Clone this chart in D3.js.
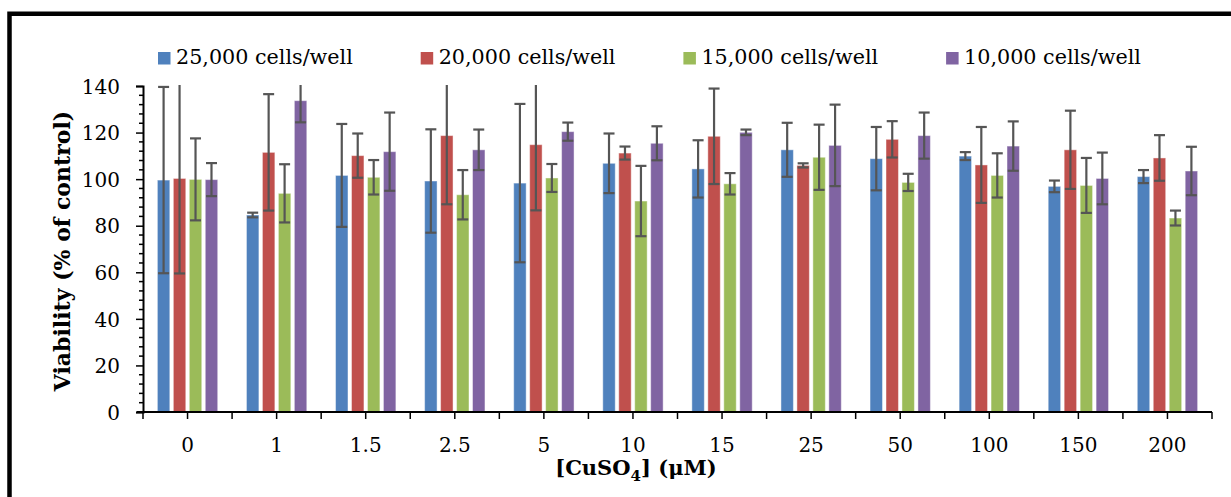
<!DOCTYPE html>
<html>
<head>
<meta charset="utf-8">
<script src="https://cdn.jsdelivr.net/npm/d3@7"></script>
<style>
    body { margin: 0; background: #fff; }
    text { font-family: "DejaVu Serif", serif; fill: #000; }
</style>
</head>
<body>
<div id="chart"></div>
<script>
var categories = ["0", "1", "1.5", "2.5", "5", "10", "15", "25", "50", "100", "150", "200"];
var seriesNames = ["25,000 cells/well", "20,000 cells/well", "15,000 cells/well", "10,000 cells/well"];

var cells25k = [99.6, 84.6, 101.6, 99.2, 98.3, 106.8, 104.4, 112.6, 108.8, 109.9, 96.9, 101.1];
var cells20k = [100.3, 111.5, 110.1, 118.7, 114.8, 111.2, 118.4, 105.9, 117.1, 106.1, 112.6, 109.1];
var cells15k = [99.9, 93.9, 100.8, 93.3, 100.5, 90.6, 98.0, 109.4, 98.6, 101.6, 97.3, 83.3];
var cells10k = [99.8, 133.7, 111.8, 112.6, 120.4, 115.4, 120.1, 114.5, 118.7, 114.2, 100.3, 103.5];

var err25k = [40.0, 1.0, 22.1, 22.2, 34.0, 12.8, 12.3, 11.6, 13.6, 1.7, 2.5, 2.8];
var err20k = [40.8, 25.0, 9.5, 29.5, 28.2, 2.8, 20.5, 0.9, 7.8, 16.3, 16.8, 9.8];
var err15k = [17.6, 12.5, 7.4, 10.6, 6.0, 15.1, 4.6, 14.0, 3.7, 9.5, 11.8, 3.2];
var err10k = [7.1, 9.3, 16.8, 8.7, 3.9, 7.3, 1.2, 17.5, 9.9, 10.6, 11.1, 10.4];

var yTicks = [0, 20, 40, 60, 80, 100, 120, 140];

var BarChart = function() {
    var W = 1231, H = 497,
        left = 143, right = 1212, top = 86, bottom = 412,
        values = [cells25k, cells20k, cells15k, cells10k],
        errors = [err25k, err20k, err15k, err10k],
        colors = ["#4f81bd", "#c0504d", "#9bbb59", "#8064a2"];

    var svg = d3.select("#chart")
        .append("svg")
        .attr("width", W)
        .attr("height", H);

    var x0 = d3.scaleBand().domain(categories).range([left, right]).padding(0);
    var x1 = d3.scaleBand().domain(d3.range(4)).range([0, x0.bandwidth()])
        .paddingInner(0.22).paddingOuter(0.9);
    var y = d3.scaleLinear().domain([0, 140]).range([bottom, top]);

    // outer frame (only top and left edges fall inside the picture)
    svg.append("path")
        .attr("d", "M9.5," + H + " V13.8 H" + W)
        .attr("fill", "none")
        .attr("stroke", "#000")
        .attr("stroke-width", 4.5);

    svg.append("defs").append("clipPath").attr("id", "plot-clip")
        .append("rect")
        .attr("x", left).attr("y", top - 1)
        .attr("width", right - left).attr("height", bottom - top + 1);

    function DrawBars() {
        for (var s = 0; s < 4; s++) {
            svg.append("g")
                .selectAll("rect")
                .data(values[s])
                .enter()
                .append("rect")
                .attr("x", function(d, i) { return x0(categories[i]) + x1(s); })
                .attr("y", function(d) { return y(d); })
                .attr("width", x1.bandwidth())
                .attr("height", function(d) { return y(0) - y(d); })
                .style("fill", colors[s])
                .style("stroke", "rgba(255,255,255,0.45)")
                .style("stroke-width", 1);
        }
    }

    function DrawErrors() {
        var g = svg.append("g").attr("clip-path", "url(#plot-clip)");
        var capW = 11;
        for (var s = 0; s < 4; s++) {
            for (var i = 0; i < categories.length; i++) {
                var cx = x0(categories[i]) + x1(s) + x1.bandwidth() / 2,
                    hi = values[s][i] + errors[s][i],
                    lo = values[s][i] - errors[s][i];
                g.append("line")
                    .attr("x1", cx).attr("x2", cx)
                    .attr("y1", y(Math.min(hi, 142))).attr("y2", y(lo))
                    .attr("stroke", "#555").attr("stroke-width", 2.2);
                if (hi <= 140) {
                    g.append("line")
                        .attr("x1", cx - capW / 2).attr("x2", cx + capW / 2)
                        .attr("y1", y(hi)).attr("y2", y(hi))
                        .attr("stroke", "#555").attr("stroke-width", 2.2);
                }
                g.append("line")
                    .attr("x1", cx - capW / 2).attr("x2", cx + capW / 2)
                    .attr("y1", y(lo)).attr("y2", y(lo))
                    .attr("stroke", "#555").attr("stroke-width", 2.2);
            }
        }
    }

    function DrawAxes() {
        // y axis minor ticks every 4
        var minor = d3.range(0, 141, 4).filter(function(v) { return v % 20 !== 0; });
        svg.append("g").selectAll("line").data(minor).enter().append("line")
            .attr("x1", left - 4).attr("x2", left)
            .attr("y1", function(d) { return y(d); })
            .attr("y2", function(d) { return y(d); })
            .attr("stroke", "#000").attr("stroke-width", 1.5);

        var yAxis = svg.append("g")
            .attr("transform", "translate(" + left + ",0)")
            .call(d3.axisLeft(y).tickValues(yTicks).tickSize(7).tickPadding(16));
        yAxis.select(".domain").attr("stroke-width", 2);
        yAxis.selectAll(".tick line").attr("stroke-width", 1.5);
        yAxis.selectAll("text")
            .style("font-family", "DejaVu Serif")
            .style("font-size", "20px")
            .attr("dy", "0.36em");

        // x axis ticks at boundaries and centres
        var tickPos = [];
        categories.forEach(function(c) {
            tickPos.push(x0(c));
            tickPos.push(x0(c) + x0.bandwidth() / 2);
        });
        tickPos.push(right);

        svg.append("line")
            .attr("x1", left - 6).attr("x2", right)
            .attr("y1", bottom).attr("y2", bottom)
            .attr("stroke", "#000").attr("stroke-width", 2);
        svg.append("g").selectAll("line").data(tickPos).enter().append("line")
            .attr("x1", function(d) { return d; })
            .attr("x2", function(d) { return d; })
            .attr("y1", bottom).attr("y2", bottom + 7)
            .attr("stroke", "#000").attr("stroke-width", 1.5);

        svg.append("g").selectAll("text").data(categories).enter().append("text")
            .attr("x", function(d) { return x0(d) + x0.bandwidth() / 2; })
            .attr("y", 452)
            .attr("text-anchor", "middle")
            .style("font-size", "20px")
            .text(function(d) { return d; });

        // axis titles
        svg.append("text")
            .attr("transform", "translate(70,251) rotate(-90)")
            .attr("text-anchor", "middle")
            .style("font-size", "22px")
            .style("font-weight", "bold")
            .text("Viability (% of control)");

        var xt = svg.append("text")
            .attr("x", 636)
            .attr("y", 475)
            .attr("text-anchor", "middle")
            .style("font-size", "21px")
            .style("font-weight", "bold");
        xt.append("tspan").text("[CuSO");
        xt.append("tspan").attr("dy", 6).style("font-size", "15px").text("4");
        xt.append("tspan").attr("dy", -6).text("] (\u03bcM)");
    }

    function DrawKey() {
        for (var i = 0; i < seriesNames.length; i++) {
            var kx = 158 + i * 262.7;
            svg.append("rect")
                .attr("x", kx)
                .attr("y", 52)
                .attr("width", 12.5)
                .attr("height", 12.5)
                .style("fill", colors[i]);
            svg.append("text")
                .attr("x", kx + 18)
                .attr("y", 64)
                .attr("text-anchor", "start")
                .style("font-size", "20.7px")
                .text(seriesNames[i]);
        }
    }

    DrawBars();
    DrawErrors();
    DrawAxes();
    DrawKey();
};
BarChart();
</script>
</body>
</html>
